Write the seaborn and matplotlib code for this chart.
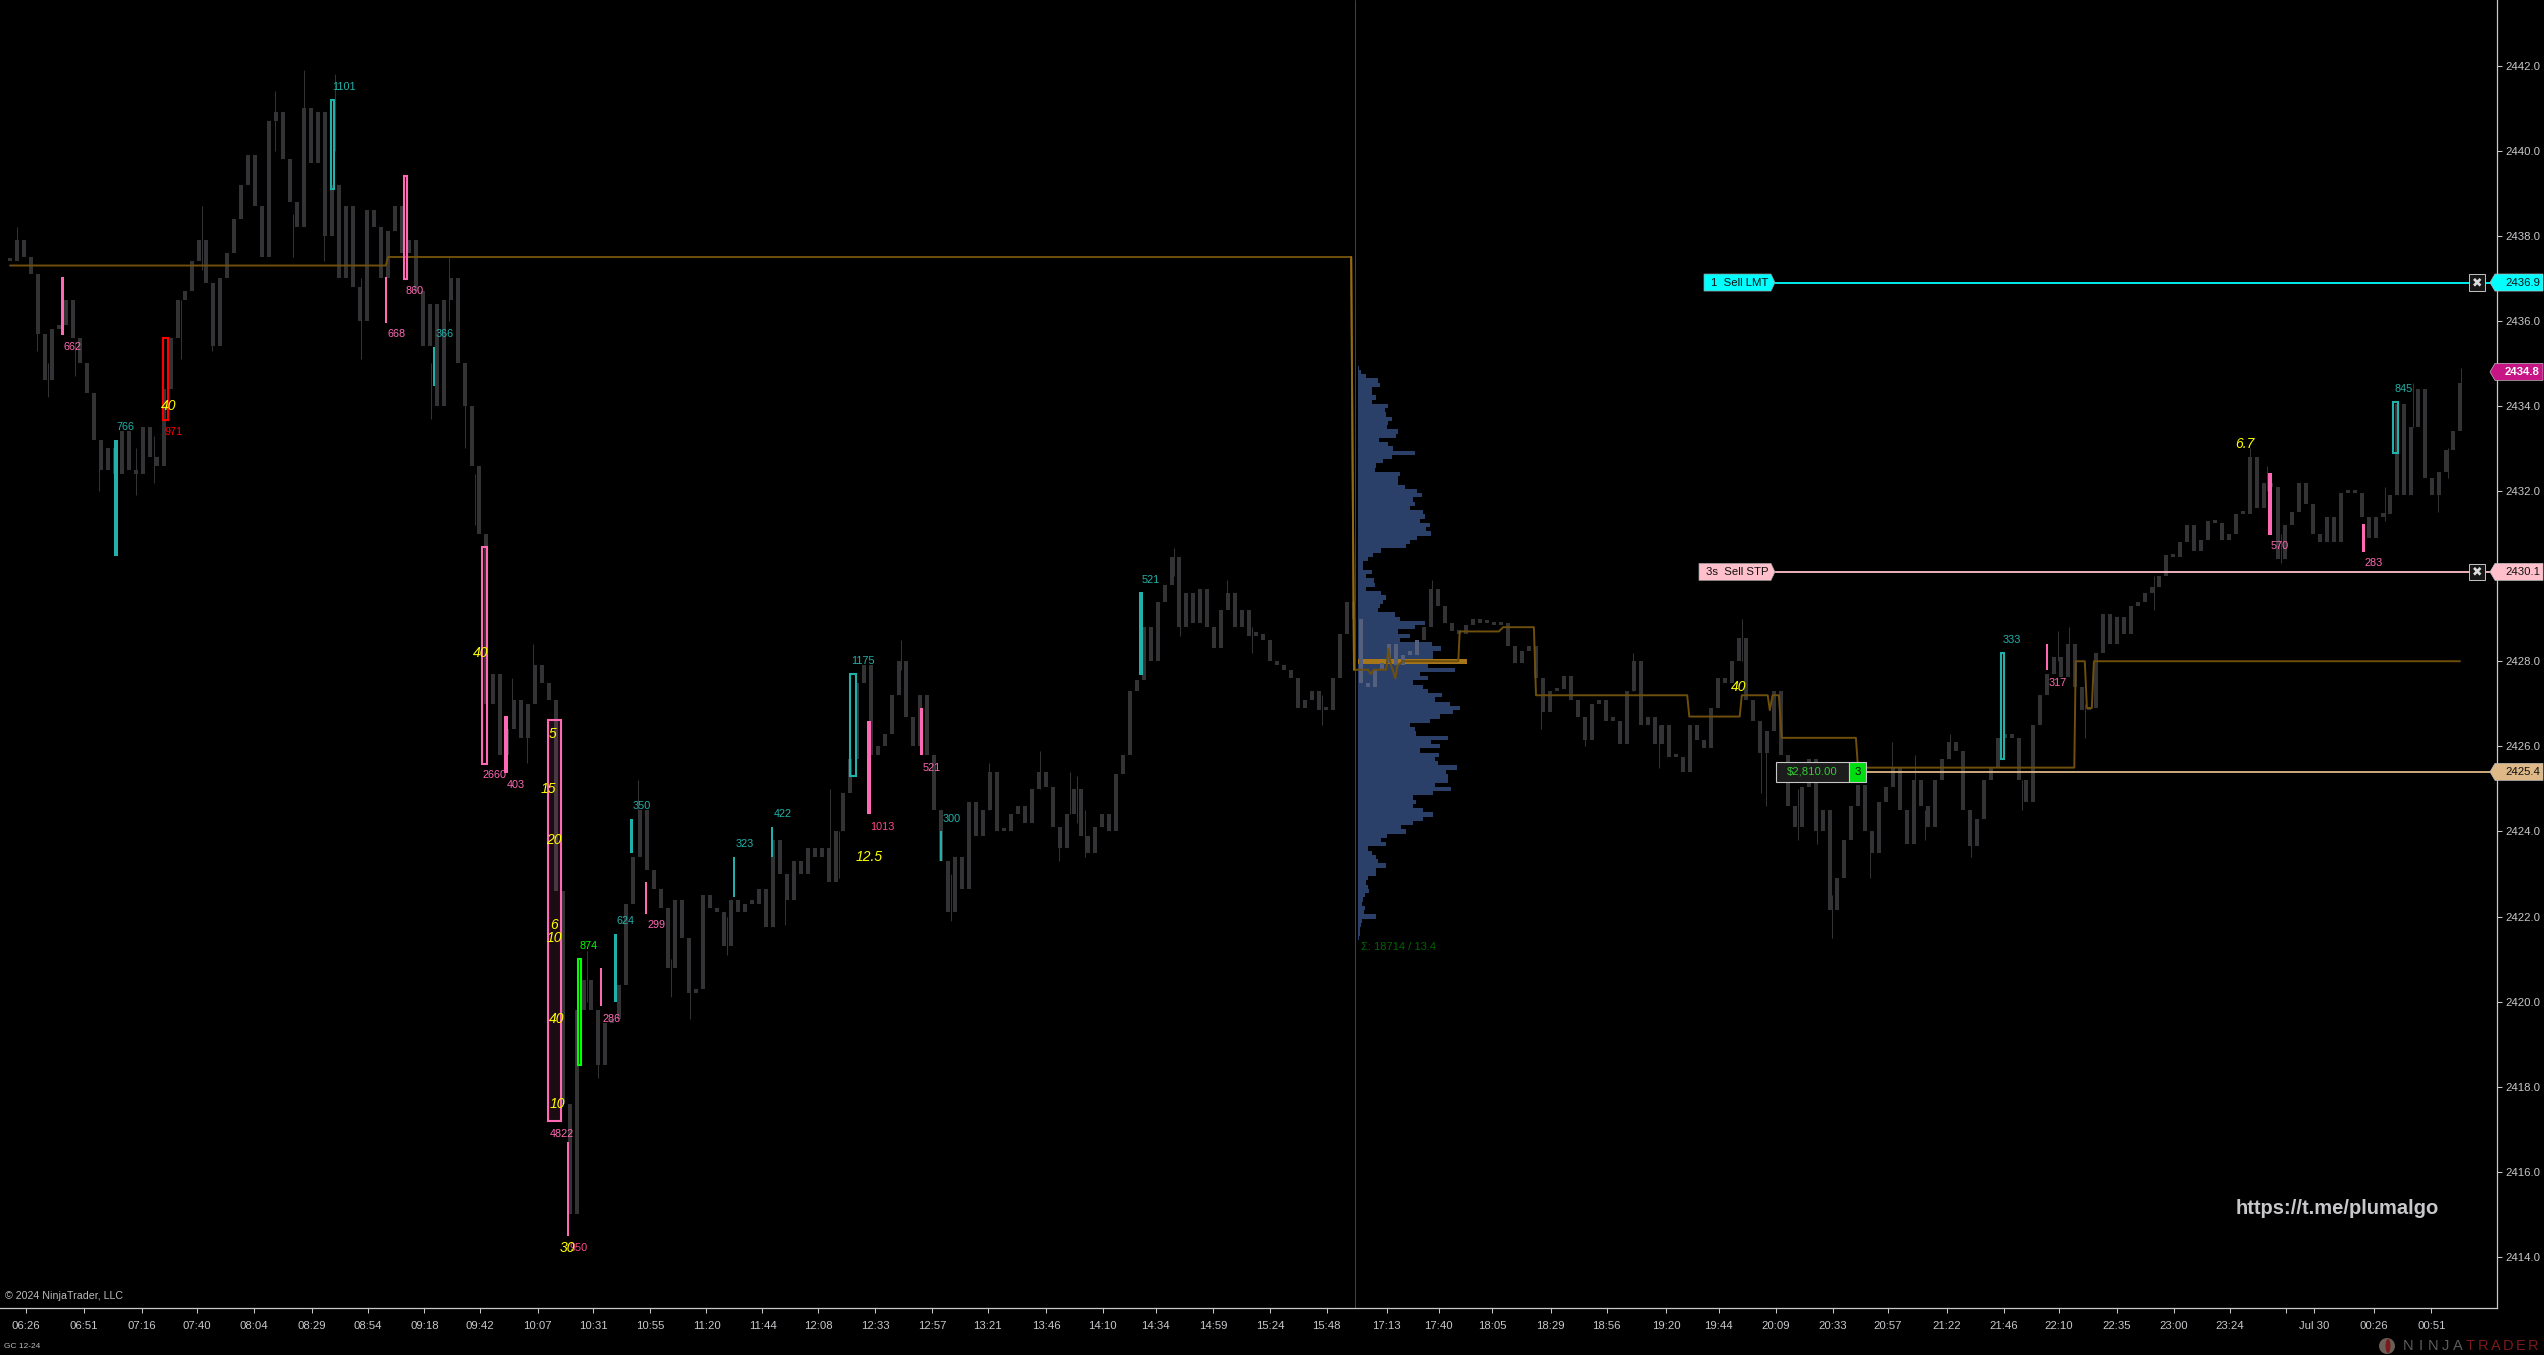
import numpy as np
import pandas as pd
import seaborn as sns
import matplotlib.pyplot as plt
from matplotlib.patches import Polygon, Rectangle, Ellipse
from matplotlib.transforms import blended_transform_factory

# closes, one per column
close_prices = [
    2437.4, 2437.9, 2437.5, 2437.1, 2435.7, 2434.6, 2435.8, 2435.9, 2436.5, 2435.6,
    2435.0, 2434.3, 2433.2, 2432.5, 2433.0, 2432.4, 2433.4, 2432.5, 2432.4, 2433.5,
    2432.8, 2432.6, 2434.4, 2435.6, 2436.5, 2436.7, 2437.4, 2437.9, 2436.9, 2435.4,
    2437.0, 2437.6, 2438.4, 2439.2, 2439.9, 2438.7, 2437.5, 2440.7, 2440.9, 2439.8,
    2438.8, 2438.2, 2441.0, 2439.7, 2440.9, 2438.0, 2439.2, 2437.0, 2438.7, 2436.8,
    2436.0, 2438.6, 2438.2, 2437.0, 2438.1, 2438.7, 2437.6, 2437.9, 2436.7, 2435.4,
    2436.4, 2434.0, 2436.5, 2437.0, 2435.0, 2434.0, 2432.6, 2431.0, 2427.0, 2427.7,
    2425.8, 2426.4, 2427.1, 2426.2, 2427.0, 2427.9, 2427.5, 2427.1, 2422.6, 2417.6,
    2415.0, 2419.8, 2420.5, 2419.8, 2418.5, 2419.5, 2419.6, 2420.4, 2422.3, 2423.4,
    2424.5, 2423.1, 2422.65, 2422.2, 2420.8, 2422.4, 2421.5, 2420.2, 2420.3, 2422.5,
    2422.2, 2422.1, 2421.3, 2422.4, 2422.1, 2422.3, 2422.3, 2422.65, 2421.75, 2423.8,
    2423.0, 2422.4, 2423.3, 2423.0, 2423.6, 2423.4, 2423.6, 2422.8, 2424.0, 2424.9,
    2425.7, 2427.5, 2427.9, 2425.8, 2426.0, 2426.3, 2427.2, 2428.0, 2426.7, 2426.0,
    2427.2, 2425.8, 2424.5, 2423.3, 2422.1, 2423.4, 2422.65, 2424.7, 2423.9, 2424.5,
    2425.4, 2424.0, 2424.0, 2424.4, 2424.6, 2424.2, 2425.0, 2425.4, 2425.05, 2424.1,
    2423.6, 2424.4, 2425.0, 2423.9, 2423.5, 2424.1, 2424.4, 2424.0, 2425.35, 2425.8,
    2427.3, 2427.55, 2428.8, 2428.0, 2429.4, 2429.8, 2430.45, 2428.8, 2429.6, 2428.9,
    2429.7, 2428.8, 2428.3, 2429.2, 2429.6, 2428.8, 2429.2, 2428.6, 2428.65, 2428.5,
    2428.0, 2427.9, 2427.8, 2427.6, 2426.9, 2427.1, 2427.3, 2426.85, 2426.85, 2427.6,
    2428.65, 2429.4, 2429.0, 2427.5, 2427.4, 2427.8, 2427.97, 2428.4, 2427.9, 2428.15,
    2428.15, 2428.5, 2428.8, 2429.7, 2429.3, 2428.9, 2428.7, 2428.65, 2428.85, 2429.0,
    2428.9, 2428.9, 2428.85, 2428.9, 2428.35, 2427.95, 2428.25, 2428.35, 2427.6, 2426.8,
    2427.3, 2427.35, 2427.65, 2427.1, 2426.7, 2426.15, 2427.0, 2427.1, 2426.6, 2426.6,
    2426.05, 2427.3, 2428.0, 2426.5, 2426.7, 2426.05, 2426.5, 2425.75, 2425.75, 2425.4,
    2426.5, 2426.15, 2425.95, 2426.9, 2427.6, 2427.5, 2428.0, 2428.55, 2427.1, 2426.6,
    2425.85, 2426.35, 2427.3, 2425.8, 2424.6, 2424.1, 2425.05, 2425.7, 2424.0, 2424.5,
    2422.15, 2422.9, 2423.8, 2424.6, 2425.1, 2424.0, 2423.5, 2424.7, 2425.05, 2425.5,
    2424.5, 2423.7, 2425.2, 2424.6, 2424.1, 2425.2, 2425.7, 2426.1, 2425.9, 2424.5,
    2423.65, 2424.3, 2425.2, 2425.5, 2426.2, 2426.3, 2426.2, 2425.2, 2424.7, 2426.5,
    2427.2, 2427.7, 2428.1, 2427.64, 2428.4, 2427.4, 2426.85, 2426.9, 2428.2, 2429.1,
    2428.4, 2429.05, 2428.65, 2429.3, 2429.4, 2429.6, 2429.75, 2430.0, 2430.5, 2430.45,
    2430.8, 2431.2, 2430.6, 2430.85, 2431.3, 2431.25, 2430.85, 2431.0, 2431.45, 2431.45,
    2432.8, 2431.6, 2432.2, 2432.1, 2430.4, 2431.2, 2431.5, 2432.2, 2431.7, 2431.0,
    2430.8, 2431.4, 2430.8, 2431.95, 2432.0, 2431.95, 2431.4, 2430.9, 2431.4, 2431.45,
    2431.9, 2434.05, 2431.9, 2433.5, 2434.4, 2432.3, 2431.9, 2432.45, 2432.96, 2433.4,
    2434.55,
]

# the wicks that stick out of the bodies
wick_bar = [1.0, 3.8, 5.4, 9.3, 12.7, 18.0, 20.6, 24.5, 27.4, 28.9, 37.8, 42.0, 40.5, 46.4, 44.9,
            50.2, 60.2, 62.7, 65.0, 66.5, 74.7, 71.7, 73.8, 89.7, 94.5, 97.2, 82.4, 84.0, 110.7,
            102.4, 117.2, 118.4, 127.3, 134.4, 139.9, 147.2, 151.5, 152.5, 149.8, 153.6, 166.3,
            167.1, 173.9, 177.4, 187.5, 203.1, 218.7, 225.0, 231.9, 235.6, 247.4, 250.8, 250.2,
            255.5, 260.3, 258.2, 265.7, 268.9, 272.1, 273.6, 277.1, 280.1, 287.5, 292.6, 294.1,
            296.4, 306.3, 320.0, 322.5, 324.4, 346.9, 348.3, 350.2, 343.3, 339.3]
wick_lo = [2437.5, 2435.3, 2434.2, 2434.7, 2432.0, 2431.9, 2432.2, 2435.1, 2437.2, 2435.3, 2440.0, 2440.5, 2437.5, 2440.0, 2437.4,
           2435.1, 2433.7, 2436.0, 2433.0, 2431.2, 2427.5, 2426.5, 2425.6, 2424.0, 2420.1, 2419.6, 2420.0, 2418.2, 2421.8,
           2421.1, 2423.0, 2422.9, 2427.8, 2421.9, 2424.5, 2425.0, 2424.4, 2424.2, 2423.3, 2423.4, 2430.0,
           2428.6, 2429.3, 2428.2, 2426.5, 2429.3, 2426.4, 2426.0, 2427.3, 2425.5, 2428.0, 2424.6, 2424.9,
           2423.8, 2421.5, 2423.7, 2422.9, 2425.2, 2425.0, 2423.8, 2426.0, 2423.4, 2424.5, 2428.0, 2428.0,
           2426.2, 2429.2, 2432.5, 2432.0, 2430.3, 2431.5, 2432.3, 2434.2, 2433.5, 2431.3]
wick_hi = [2438.2, 2436.5, 2435.0, 2435.5, 2433.0, 2433.0, 2433.3, 2436.5, 2438.7, 2436.5, 2441.4, 2441.9, 2438.5, 2441.8, 2438.5,
           2437.0, 2435.0, 2437.5, 2434.5, 2432.4, 2428.4, 2427.6, 2426.5, 2425.2, 2421.0, 2420.5, 2421.2, 2419.4, 2423.0,
           2422.0, 2425.0, 2424.0, 2428.5, 2423.0, 2425.6, 2425.9, 2425.4, 2425.3, 2424.0, 2424.5, 2430.65,
           2429.5, 2429.9, 2428.8, 2427.2, 2429.9, 2427.6, 2426.6, 2428.2, 2426.5, 2429.0, 2426.0, 2426.0,
           2425.0, 2422.5, 2424.5, 2424.0, 2426.1, 2425.8, 2424.5, 2426.3, 2424.0, 2425.2, 2428.7, 2428.8,
           2427.0, 2430.0, 2433.0, 2432.6, 2431.0, 2432.2, 2433.0, 2434.9, 2434.55, 2432.1]

# gold session line
gold_bar = [0, 53.7, 54, 191.6, 192, 192.3, 194, 194.4, 194.8, 196.6, 196.9, 197.3, 197.9, 198.2, 199, 206.9,
            207.1, 212.7, 213.3, 217.7, 218, 239.6, 239.9, 247.1, 247.4, 251.1, 251.4, 251.8, 252.7, 253.1,
            263.7, 264, 294.9, 295.1, 296.4, 296.7, 297.4, 297.7, 350]
gold_price = [2437.3, 2437.3, 2437.5, 2437.5, 2427.8, 2427.8, 2427.8, 2427.7, 2427.8, 2427.8, 2428.3, 2427.9, 2427.6, 2427.9, 2428.0, 2428.0,
              2428.7, 2428.7, 2428.8, 2428.8, 2427.2, 2427.2, 2426.7, 2426.7, 2427.2, 2427.2, 2426.85, 2427.2, 2427.2, 2426.2,
              2426.2, 2425.5, 2425.5, 2428.0, 2428.0, 2426.9, 2426.9, 2428.0, 2428.0]

# volume profile, top row down, one row per 0.1
profile_vol = [1, 3, 8, 20, 22, 14, 14, 18, 14, 30,
               27, 28, 34, 30, 29, 40, 38, 21, 30, 35,
               57, 34, 25, 18, 17, 42, 40, 40, 47, 59,
               64, 55, 57, 52, 65, 67, 62, 72, 68, 73,
               59, 52, 48, 23, 15, 10, 5, 5, 14, 8,
               16, 17, 8, 23, 28, 25, 22, 20, 37, 42,
               67, 57, 40, 52, 42, 74, 83, 75, 75, 109,
               70, 97, 62, 70, 55, 65, 70, 84, 77, 92,
               102, 95, 82, 72, 52, 57, 58, 90, 73, 82,
               62, 81, 77, 80, 99, 88, 90, 90, 77, 93,
               75, 55, 58, 55, 65, 75, 65, 55, 43, 48,
               29, 23, 28, 10, 14, 18, 20, 28, 18, 18,
               10, 8, 10, 11, 7, 5, 4, 7, 6, 18,
               4, 3, 2, 2, 1]
profile_top = 2434.9
poc_price = 2428.0

# signal bars: solid ones
solid_bar = [7.49, 53.71, 70.86, 79.71, 84.4, 90.81, 122.71, 130.23, 291.0, 322.86, 336.19,
             15.14, 60.57, 86.5, 88.77, 103.41, 108.83, 133.03, 161.57]
solid_hi = [2437.02, 2437.02, 2426.71, 2416.7, 2420.8, 2422.8, 2426.6, 2426.9, 2428.4, 2432.42, 2431.22,
            2433.21, 2435.39, 2421.6, 2424.3, 2423.4, 2424.1, 2424.0, 2429.63]
solid_lo = [2435.67, 2435.96, 2425.37, 2414.49, 2419.9, 2422.06, 2424.4, 2425.8, 2427.8, 2430.97, 2430.57,
            2430.47, 2434.47, 2420.0, 2423.5, 2422.46, 2423.4, 2423.3, 2427.68]
solid_w = [0.5, 0.35, 0.57, 0.35, 0.3, 0.3, 0.57, 0.43, 0.3, 0.5, 0.43,
           0.64, 0.3, 0.5, 0.5, 0.3, 0.3, 0.3, 0.57]
solid_col = ['#ff69b4'] * 11 + ['#20b2aa'] * 8

# signal bars: outlined ones
box_bar = [22.25, 46.05, 56.5, 67.79, 77.79, 81.33, 120.46, 284.69, 340.83]
box_hi = [2435.6, 2441.2, 2439.41, 2430.69, 2426.61, 2421.0, 2427.7, 2428.2, 2434.09]
box_lo = [2433.68, 2439.09, 2436.99, 2425.59, 2417.2, 2418.5, 2425.3, 2425.7, 2432.89]
box_w = [0.65, 0.39, 0.43, 0.72, 1.76, 0.38, 0.81, 0.43, 0.72]
box_col = ['#ff0000', '#20b2aa', '#ff69b4', '#ff69b4', '#ff69b4', '#00ff00', '#20b2aa', '#20b2aa', '#20b2aa']

# volume numbers next to the signal bars
note_text = ['662', '766', '971', '1101', '668', '860', '366', '2660', '403', '4822', '950', '874', '286', '624',
             '350', '299', '323', '422', '1175', '1013', '521', '300', '521', '333', '317', '570', '283', '845']
note_bar = [8.96, 16.53, 23.36, 47.71, 55.24, 57.81, 62.14, 69.24, 72.29, 78.8, 81.26, 82.66, 85.97, 87.96,
            90.23, 92.39, 104.93, 110.41, 121.9, 124.57, 131.69, 134.54, 162.9, 285.96, 292.57, 324.29, 337.67, 342.0]
note_price = [2435.39, 2433.51, 2433.39, 2441.5, 2435.7, 2436.71, 2435.7, 2425.32, 2425.1, 2416.9, 2414.2, 2421.3, 2419.6, 2421.9,
              2424.6, 2421.8, 2423.7, 2424.4, 2428.0, 2424.1, 2425.5, 2424.3, 2429.9, 2428.5, 2427.5, 2430.7, 2430.3, 2434.4]
note_col = ['#ff69b4', '#20b2aa', '#ff0000', '#20b2aa', '#ff69b4', '#ff69b4', '#20b2aa', '#ff69b4', '#ff69b4', '#ff69b4',
            '#ff4a8d', '#00ff00', '#ff69b4', '#20b2aa', '#20b2aa', '#ff69b4', '#20b2aa', '#20b2aa', '#20b2aa', '#ff4a8d',
            '#ff69b4', '#20b2aa', '#20b2aa', '#20b2aa', '#ff69b4', '#ff69b4', '#ff69b4', '#20b2aa']

# yellow italic numbers
ratio_text = ['40', '40', '5', '15', '20', '6', '10', '40', '10', '30', '12.5', '40', '6.7']
ratio_bar = [22.71, 67.26, 77.57, 76.94, 77.7, 77.7, 77.76, 78.14, 78.14, 79.61, 122.77, 247.0, 319.29]
ratio_price = [2433.99, 2428.2, 2426.3, 2425.0, 2423.8, 2421.8, 2421.5, 2419.6, 2417.6, 2414.2, 2423.4, 2427.4, 2433.1]

time_labels = ['06:26', '06:51', '07:16', '07:40', '08:04', '08:29', '08:54', '09:18', '09:42', '10:07', '10:31',
               '10:55', '11:20', '11:44', '12:08', '12:33', '12:57', '13:21', '13:46', '14:10', '14:34', '14:59',
               '15:24', '15:48', '17:13', '17:40', '18:05', '18:29', '18:56', '19:20', '19:44', '20:09', '20:33',
               '20:57', '21:22', '21:46', '22:10', '22:35', '23:00', '23:24', '', 'Jul 30', '00:26', '00:51']
time_ticks = [2.3, 10.6, 18.8, 26.7, 34.8, 43.1, 51.1, 59.2, 67.1, 75.4, 83.3,
              91.4, 99.5, 107.5, 115.5, 123.6, 131.7, 139.7, 148.0, 156.1, 163.7, 171.9,
              180.0, 188.1, 196.7, 204.1, 211.7, 220.1, 228.1, 236.6, 244.1, 252.3, 260.4,
              268.3, 276.7, 284.8, 292.7, 301.0, 309.1, 317.1, 325.1, 329.1, 337.7, 345.9]
price_ticks = [2414, 2416, 2418, 2420, 2422, 2424, 2426, 2428, 2430, 2432, 2434, 2436, 2438, 2440, 2442]

W, H = 2544, 1355
AX_RIGHT, AX_BOTTOM = 2496.7, 1308
GREY = '#c8c8cc'

sns.set_theme(style='dark', rc={'figure.facecolor': 'black', 'axes.facecolor': 'black', 'savefig.facecolor': 'black',
                                'axes.grid': False, 'axes.linewidth': 0.9})
plt.rcParams['font.family'] = ['Liberation Sans', 'DejaVu Sans']

fig = plt.figure(figsize=(W / 100, H / 100), dpi=100)
rect = [0, (H - AX_BOTTOM) / H, AX_RIGHT / W, AX_BOTTOM / H]
y_range = (2412.80, 2443.54)

# profile sits under the price bars
vol_ax = fig.add_axes([1358 / W, rect[1], (AX_RIGHT - 1358) / W, rect[3]], zorder=1)
profile = pd.DataFrame({'vol': profile_vol})
profile['price'] = (profile_top - 0.1 * profile.index).round(1)
sns.barplot(data=profile, x='vol', y='price', orient='y', native_scale=True, width=1.0, color='#2b4068',
            saturation=1, errorbar=None, linewidth=0, ax=vol_ax)
poc_row = profile[profile.price == poc_price]
sns.barplot(data=poc_row, x='vol', y='price', orient='y', native_scale=True, width=0.11, color='#a8761a',
            saturation=1, errorbar=None, linewidth=0, ax=vol_ax)
vol_ax.set_xlim(0, AX_RIGHT - 1358)
vol_ax.set_ylim(*y_range)
vol_ax.axis('off')

ax = fig.add_axes(rect, zorder=2)
ax.patch.set_visible(False)

closes = np.array(close_prices)
opens = np.r_[closes[0], closes[:-1]]
bars = pd.DataFrame({'bar': np.arange(len(closes)), 'lo': np.minimum(opens, closes), 'hi': np.maximum(opens, closes)})
bars['body'] = (bars.hi - bars.lo).clip(lower=0.08)
in_profile = bars.bar.between(193, 201)

ax.vlines(wick_bar, wick_lo, wick_hi, color='#333336', linewidth=0.75, zorder=2)
sns.barplot(data=bars[~in_profile], x='bar', y='body', bottom=bars[~in_profile].lo.values, native_scale=True, width=0.62,
            color='#333336', saturation=1, errorbar=None, linewidth=0, zorder=2, ax=ax)
sns.barplot(data=bars[in_profile], x='bar', y='body', bottom=bars[in_profile].lo.values, native_scale=True, width=0.5,
            color='#55617c', saturation=1, errorbar=None, linewidth=0, zorder=2, ax=ax)

# gold line, the drop between sessions is brighter
sns.lineplot(x=gold_bar, y=gold_price, sort=False, estimator=None, color='#6e4f0c', linewidth=1.4, zorder=3, ax=ax)
sns.lineplot(x=gold_bar[3:5], y=gold_price[3:5], sort=False, estimator=None, color='#946c10', linewidth=1.4, zorder=3, ax=ax)

ax.bar(solid_bar, np.array(solid_hi) - np.array(solid_lo), bottom=solid_lo, width=solid_w, color=solid_col, linewidth=0, zorder=4)
ax.bar(box_bar, np.array(box_hi) - np.array(box_lo), bottom=box_lo, width=box_w, fill=False, edgecolor=box_col, linewidth=1.5, zorder=4)
ax.bar(box_bar[4], box_hi[4] - box_lo[4], bottom=box_lo[4], width=box_w[4], color='#ff69b4', alpha=0.11, linewidth=0, zorder=4)

for t, x, y, c in zip(note_text, note_bar, note_price, note_col):
    ax.text(x, y, t, color=c, fontsize=7.8, ha='center', va='center', zorder=5)
for t, x, y in zip(ratio_text, ratio_bar, ratio_price):
    ax.text(x, y, t, color='yellow', fontsize=10, style='italic', ha='center', va='center', zorder=6)

ax.axvline(192.14, color='#404040', linewidth=0.75, zorder=1)

ax.set_xlim((0 - 10) / 7, (AX_RIGHT - 10) / 7)
ax.set_ylim(*y_range)
ax.set_xticks(time_ticks, time_labels)
ax.set_yticks(price_ticks, [f'{p:.1f}' for p in price_ticks])
ax.set_xlabel('')
ax.set_ylabel('')
ax.yaxis.tick_right()
ax.tick_params(axis='x', bottom=True, length=3.6, width=0.75, color=GREY, labelcolor=GREY, labelsize=8.2, pad=6)
ax.tick_params(axis='y', right=True, left=False, length=3.6, width=0.75, color=GREY, labelcolor=GREY, labelsize=8.2, pad=2.6)
for side, on in dict(left=False, top=False, right=True, bottom=True).items():
    ax.spines[side].set_visible(on)
    ax.spines[side].set_color(GREY)

# order lines and price tags, x in figure pixels, y in price
tr = blended_transform_factory(fig.transFigure, ax.transData)


def px(x):
    return x / W


def right_tag(price, color, text_color, weight='normal'):
    h = 0.2
    pts = [(px(2490), price), (px(2495), price + h), (px(2543), price + h), (px(2543), price - h), (px(2495), price - h)]
    ax.add_patch(Polygon(pts, closed=True, transform=tr, facecolor=color, edgecolor='#bbbbbb', linewidth=0.5, clip_on=False, zorder=8))
    ax.text(px(2505), price, f'{price:.1f}', transform=tr, color=text_color, fontsize=8.2, fontweight=weight, va='center', clip_on=False, zorder=9)


def left_tag(price, x0, x1, color, label, label_x):
    h = 0.2
    pts = [(px(x0), price + h), (px(x1 - 4), price + h), (px(x1), price), (px(x1 - 4), price - h), (px(x0), price - h)]
    ax.add_patch(Polygon(pts, closed=True, transform=tr, facecolor=color, edgecolor='#999999', linewidth=0.5, zorder=8))
    ax.text(px(label_x), price, label, transform=tr, color='#101010', fontsize=8.2, va='center', zorder=9)


def close_box(price):
    h = 0.19
    ax.add_patch(Rectangle((px(2469.3), price - h), 15.4 / W, 2 * h, transform=tr, facecolor='#161616', edgecolor='#c4c4c4', linewidth=0.7, zorder=8))
    ax.text(px(2477), price, '✖', transform=tr, family='DejaVu Sans', color='#dddddd', fontsize=9, ha='center', va='center', zorder=9)


ax.plot([px(1775), px(2490)], [2436.9, 2436.9], transform=tr, color='#00ffff', linewidth=1.3, zorder=7)
ax.plot([px(1775), px(2490)], [2430.1, 2430.1], transform=tr, color='#ffc0cb', linewidth=1.3, zorder=7)
ax.plot([px(1866), px(2490)], [2425.4, 2425.4], transform=tr, color='#deb887', linewidth=1.3, zorder=7)
left_tag(2436.9, 1704, 1775, '#00ffff', '1  Sell LMT', 1711)
left_tag(2430.1, 1699, 1775, '#ffc0cb', '3s  Sell STP', 1706)
close_box(2436.9)
close_box(2430.1)
right_tag(2436.9, '#00ffff', '#101010')
right_tag(2434.8, '#c71585', 'white', 'bold')
right_tag(2430.1, '#ffc0cb', '#101010')
right_tag(2425.4, '#deb887', '#101010')

# position box
ax.add_patch(Rectangle((px(1776), 2425.165), 73 / W, 0.47, transform=tr, facecolor='#1c1c1c', edgecolor='#c8c8c8', linewidth=0.8, zorder=8))
ax.add_patch(Rectangle((px(1849), 2425.165), 17 / W, 0.47, transform=tr, facecolor='#00dd11', edgecolor='#c8c8c8', linewidth=0.8, zorder=8))
ax.text(px(1812.5), 2425.4, '$2,810.00', transform=tr, color='#32cd32', fontsize=8.2, ha='center', va='center', zorder=9)
ax.text(px(1857.5), 2425.4, '3', transform=tr, color='#101010', fontsize=8.2, ha='center', va='center', zorder=9)

ax.text(193, 2421.28, 'Σ: 18714 / 13.4', color='#006400', fontsize=8, va='center', zorder=5)

# captions
fig.text(px(2236), 1 - 1209 / H, 'https://t.me/plumalgo', color='#c8c8cc', fontsize=14.5, fontweight='bold', va='center')
fig.text(px(5), 1 - 1296 / H, '© 2024 NinjaTrader, LLC', color='#bbbbbb', fontsize=7.7, va='center')
fig.text(px(4), 1 - 1346 / H, 'GC 12-24', color='#bbbbbb', fontsize=6, va='center')

fig.add_artist(Ellipse((px(2387), 1 - 1346 / H), 16 / W, 16 / H, transform=fig.transFigure, facecolor='#6a5f58', edgecolor='none'))
fig.add_artist(Ellipse((px(2388), 1 - 1346 / H), 5 / W, 14 / H, transform=fig.transFigure, facecolor='#7a1a1a', edgecolor='none'))
for k, ch in enumerate('NINJATRADER'):
    fig.text(px(2408 + 12.5 * k), 1 - 1346 / H, ch, color='#5c5c5c' if k < 5 else '#7a1a1a', fontsize=10.5, ha='center', va='center')

fig.savefig('out.png', dpi=100, facecolor='black')
